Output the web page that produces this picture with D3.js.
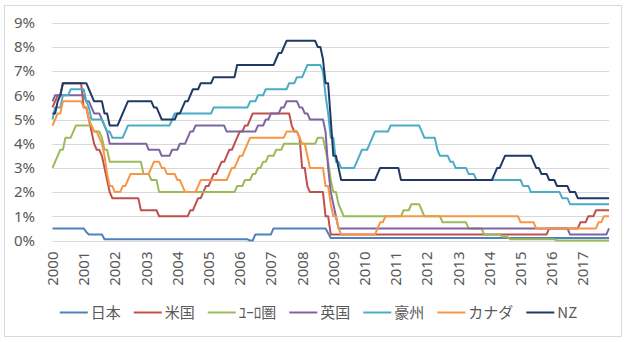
<!DOCTYPE html>
<html><head><meta charset="utf-8">
<script src="https://cdn.jsdelivr.net/npm/d3@7"></script>
<style>body{margin:0;background:#fff}svg{display:block}</style>
</head><body><svg id="c" width="630" height="342"></svg>
<script>
// ---- data ----
const seriesNames = ["日本","米国","ﾕｰﾛ圏","英国","豪州","カナダ","NZ"];
const yearLabels = ["2000","2001","2002","2003","2004","2005","2006","2007","2008","2009","2010","2011","2012","2013","2014","2015","2016","2017"];
const yTicks = [0,1,2,3,4,5,6,7,8,9];
const firstMonth = "2000-01";
const lastMonth = "2017-11";

// policy rate change points (month, rate %)
const japanDates = ["2000-01","2001-02","2001-03","2001-09","2006-05","2006-07","2007-02","2008-11","2008-12"];
const japanRates = [0.5,0.35,0.25,0.05,0.0,0.25,0.5,0.3,0.1];

const usDates = ["2000-01","2000-02","2000-03","2000-05","2001-01","2001-03","2001-04","2001-05","2001-06","2001-08","2001-09","2001-10","2001-11","2001-12","2002-11","2003-06","2004-06","2004-08","2004-09","2004-11","2004-12","2005-02","2005-03","2005-05","2005-06","2005-08","2005-09","2005-11","2005-12","2006-01","2006-03","2006-05","2006-06","2007-09","2007-10","2007-12","2008-01","2008-03","2008-04","2008-10","2008-12","2015-12","2016-12","2017-03","2017-06"];
const usRates = [5.5,5.75,6.0,6.5,5.5,5.0,4.5,4.0,3.75,3.5,3.0,2.5,2.0,1.75,1.25,1.0,1.25,1.5,1.75,2.0,2.25,2.5,2.75,3.0,3.25,3.5,3.75,4.0,4.25,4.5,4.75,5.0,5.25,4.75,4.5,4.25,3.0,2.25,2.0,1.0,0.25,0.5,0.75,1.0,1.25];

const euroDates = ["2000-01","2000-02","2000-03","2000-04","2000-06","2000-09","2000-10","2001-05","2001-08","2001-09","2001-11","2002-12","2003-03","2003-06","2005-12","2006-03","2006-06","2006-08","2006-10","2006-12","2007-03","2007-06","2008-07","2008-10","2008-11","2008-12","2009-01","2009-03","2009-04","2009-05","2011-04","2011-07","2011-11","2011-12","2012-07","2013-05","2013-11","2014-06","2014-09","2016-03"];
const euroRates = [3.0,3.25,3.5,3.75,4.25,4.5,4.75,4.5,4.25,3.75,3.25,2.75,2.5,2.0,2.25,2.5,2.75,3.0,3.25,3.5,3.75,4.0,4.25,3.75,3.25,2.5,2.0,1.5,1.25,1.0,1.25,1.5,1.25,1.0,0.75,0.5,0.25,0.15,0.05,0.0];

const ukDates = ["2000-01","2000-02","2001-02","2001-04","2001-05","2001-08","2001-09","2001-10","2001-11","2003-02","2003-07","2003-11","2004-02","2004-05","2004-06","2004-08","2005-08","2006-08","2006-11","2007-01","2007-05","2007-07","2007-12","2008-02","2008-04","2008-10","2008-11","2008-12","2009-01","2009-02","2009-03","2016-08","2017-11"];
const ukRates = [5.75,6.0,5.75,5.5,5.25,5.0,4.75,4.5,4.0,3.75,3.5,3.75,4.0,4.25,4.5,4.75,4.5,4.75,5.0,5.25,5.5,5.75,5.5,5.25,5.0,4.5,3.0,2.0,1.5,1.0,0.5,0.25,0.5];

const ausDates = ["2000-01","2000-02","2000-05","2000-08","2001-02","2001-03","2001-04","2001-09","2001-10","2001-12","2002-05","2002-06","2003-11","2003-12","2005-03","2006-05","2006-08","2006-11","2007-08","2007-11","2008-02","2008-03","2008-09","2008-10","2008-11","2008-12","2009-02","2009-04","2009-10","2009-11","2009-12","2010-03","2010-04","2010-05","2010-11","2011-11","2011-12","2012-05","2012-06","2012-10","2012-12","2013-05","2013-08","2015-02","2015-05","2016-05","2016-08"];
const ausRates = [5.0,5.5,6.0,6.25,5.75,5.5,5.0,4.75,4.5,4.25,4.5,4.75,5.0,5.25,5.5,5.75,6.0,6.25,6.5,6.75,7.0,7.25,7.0,6.0,5.25,4.25,3.25,3.0,3.25,3.5,3.75,4.0,4.25,4.5,4.75,4.5,4.25,3.75,3.5,3.25,3.0,2.75,2.5,2.25,2.0,1.75,1.5];

const canDates = ["2000-01","2000-02","2000-03","2000-05","2001-01","2001-03","2001-04","2001-05","2001-07","2001-08","2001-09","2001-10","2001-11","2002-01","2002-04","2002-06","2002-07","2003-03","2003-04","2003-07","2003-09","2004-01","2004-03","2004-04","2004-09","2004-10","2005-09","2005-10","2005-12","2006-01","2006-03","2006-04","2006-05","2007-07","2007-12","2008-01","2008-03","2008-04","2008-10","2008-12","2009-01","2009-03","2009-04","2010-06","2010-07","2010-09","2015-01","2015-07","2017-07","2017-09"];
const canRates = [4.75,5.0,5.25,5.75,5.5,5.0,4.75,4.5,4.25,4.0,3.5,2.75,2.25,2.0,2.25,2.5,2.75,3.0,3.25,3.0,2.75,2.5,2.25,2.0,2.25,2.5,2.75,3.0,3.25,3.5,3.75,4.0,4.25,4.5,4.25,4.0,3.5,3.0,2.25,1.5,1.0,0.5,0.25,0.5,0.75,1.0,0.75,0.5,0.75,1.0];

const nzDates = ["2000-01","2000-03","2000-04","2000-05","2001-03","2001-04","2001-05","2001-09","2001-11","2002-03","2002-04","2002-05","2002-06","2003-04","2003-06","2003-07","2004-01","2004-03","2004-04","2004-06","2004-07","2004-10","2005-03","2005-12","2007-03","2007-04","2007-06","2007-07","2008-07","2008-09","2008-10","2008-12","2009-01","2009-03","2009-04","2010-06","2010-07","2011-03","2014-03","2014-04","2014-06","2014-07","2015-06","2015-07","2015-09","2015-12","2016-03","2016-08","2016-11"];
const nzRates = [5.25,5.75,6.0,6.5,6.25,6.0,5.75,5.25,4.75,5.0,5.25,5.5,5.75,5.5,5.25,5.0,5.25,5.5,5.75,6.0,6.25,6.5,6.75,7.25,7.5,7.75,8.0,8.25,8.0,7.5,6.5,5.0,3.5,3.0,2.5,2.75,3.0,2.5,2.75,3.0,3.25,3.5,3.25,3.0,2.75,2.5,2.25,2.0,1.75];

// ---- styles ----
const colors = ["#4F81BD","#C0504D","#9BBB59","#8064A2","#4BACC6","#F79646","#1F3864"];

// ---- build monthly series (rate held between changes) ----
const mIdx = s => { const [y,m] = s.split("-").map(Number); return (y-2000)*12 + (m-1); };
const nMonths = mIdx(lastMonth) - mIdx(firstMonth) + 1;
function monthly(dates, rates){
  const out = [];
  let k = 0, v = rates[0];
  for(let i=0;i<nMonths;i++){
    while(k < dates.length && mIdx(dates[k]) <= i){ v = rates[k]; k++; }
    out.push({i, v});
  }
  return out;
}
const allDates = [japanDates,usDates,euroDates,ukDates,ausDates,canDates,nzDates];
const allRates = [japanRates,usRates,euroRates,ukRates,ausRates,canRates,nzRates];
const series = seriesNames.map((n,s)=>({name:n, color:colors[s], values:monthly(allDates[s], allRates[s])}));

// ---- chart ----
const svg = d3.select("#c");
const L = 52.5, R = 609, T = 22.7, B = 240.5;
const x = d3.scaleLinear().domain([0, nMonths-1]).range([L, R]);
const y = d3.scaleLinear().domain([0, 9]).range([B, T]);
const numFont = "'Noto Sans', 'Open Sans', sans-serif";
const jpFont = "'Noto Sans CJK JP', 'Noto Sans', sans-serif";

svg.append("rect").attr("x",4.5).attr("y",5.5).attr("width",617).attr("height",331)
  .attr("fill","#fff").attr("stroke","#d9d9d9").attr("stroke-width",1);

// gridlines
svg.append("g").selectAll("line").data(yTicks).join("line")
  .attr("x1",L).attr("x2",R)
  .attr("y1",d=>Math.round(y(d))+0.5).attr("y2",d=>Math.round(y(d))+0.5)
  .attr("stroke","#d9d9d9").attr("stroke-width",1);

// y axis labels
const yAxis = d3.axisLeft(y).tickValues(yTicks).tickFormat(d=>d+"%").tickSize(0).tickPadding(0);
const gy = svg.append("g").attr("transform","translate(35,0)").call(yAxis);
gy.select(".domain").remove();
gy.selectAll("text").attr("font-family",numFont).attr("font-size",15).attr("fill","#595959");

// x axis labels (years)
const yearTicks = yearLabels.map((t,k)=>({t, i:mIdx(t+"-01")}));
svg.append("g").selectAll("text").data(yearTicks).join("text")
  .attr("transform",d=>`translate(${x(d.i)},251.5) rotate(-90)`)
  .attr("text-anchor","end").attr("dy","0.36em")
  .attr("font-family",numFont).attr("font-size",15).attr("fill","#595959")
  .text(d=>d.t);

// lines
const line = d3.line().x(d=>x(d.i)).y(d=>y(d.v));
svg.append("g").selectAll("path").data(series).join("path")
  .attr("d",d=>line(d.values)).attr("fill","none")
  .attr("stroke",d=>d.color).attr("stroke-width",2).attr("stroke-linejoin","round");

// legend
const lg = svg.append("g");
let cx = 0;
const items = [];
series.forEach(s=>{
  const g = lg.append("g");
  g.append("line").attr("x1",0).attr("x2",28).attr("y1",0).attr("y2",0)
    .attr("stroke",s.color).attr("stroke-width",2);
  const t = g.append("text").attr("x",31).attr("y",0).attr("dy","0.35em")
    .attr("font-family",jpFont).attr("font-size",15).attr("fill","#595959").text(s.name);
  const w = 31 + t.node().getComputedTextLength();
  g.attr("transform",`translate(${cx},312.5)`);
  cx += w + 13;
});
const total = cx - 13;
lg.attr("transform",`translate(${318.5 - total/2},0)`);
</script></body></html>
